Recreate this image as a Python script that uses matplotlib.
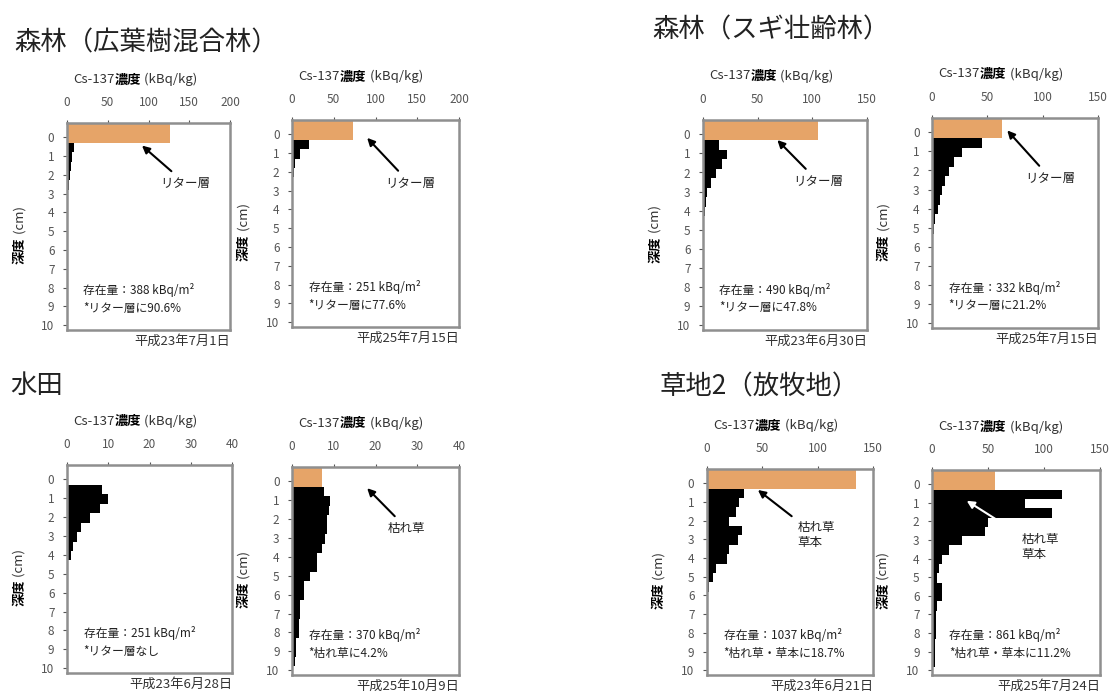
import matplotlib
matplotlib.use('Agg')
import matplotlib.pyplot as plt

plt.rcParams['font.family'] = ['Noto Sans CJK JP', 'DejaVu Sans']

# soil layers: top of each 0.5 cm layer (cm)
depth_top = [0.3, 0.8, 1.3, 1.8, 2.3, 2.8, 3.3, 3.8, 4.3, 4.8,
             5.3, 5.8, 6.3, 6.8, 7.3, 7.8, 8.3, 8.8, 9.3, 9.8]
litter_top = -0.75
litter_thick = 1.05

# Cs-137 concentration per layer (kBq/kg)
forest_broad_h23 = [8, 6, 5, 4, 3, 1.5, 0.5, 0, 0, 0, 0, 0, 0, 0, 0, 0, 0, 0, 0, 0]
forest_broad_h25 = [20, 10, 4, 2, 1, 0.5, 0, 0, 0, 0, 0, 0, 0, 0, 0, 0, 0, 0, 0, 0]
forest_cedar_h23 = [15, 22, 17, 12, 7, 4, 2.5, 1.5, 1, 0.5, 0, 0, 0, 0, 0, 0, 0, 0, 0, 0]
forest_cedar_h25 = [45, 27, 20, 15, 12, 9, 7, 5, 3, 2, 0, 0, 0, 0, 0, 0, 0, 0, 0, 0]
paddy_h23 = [8.5, 10, 8, 5.5, 3.5, 2.5, 1.5, 1, 0, 0, 0, 0, 0, 0, 0, 0, 0, 0, 0, 0]
paddy_h25 = [7.6, 9.2, 8.8, 8.4, 8.4, 8, 7.2, 6, 6, 4.4, 2.8, 2.8, 2, 2, 1.6, 1.6, 1, 1, 0.7, 0]
grass_h23 = [33, 29, 26, 20, 32, 28, 20, 18, 8, 5, 2, 1, 0, 0, 0, 0, 0, 0, 0, 0]
grass_h25 = [116, 83, 107, 50, 47, 27, 15, 9, 6, 4.5, 9, 9, 4.5, 4, 3.5, 3.5, 3, 3, 2.5, 0]

# litter / dead grass layer (kBq/kg), None = no litter layer
litter = [126, 73, 105, 63, None, 7.2, 135, 56]

soil = [forest_broad_h23, forest_broad_h25, forest_cedar_h23, forest_cedar_h25,
        paddy_h23, paddy_h25, grass_h23, grass_h25]
xmax = [200, 200, 150, 150, 40, 40, 150, 150]
xstep = [50, 50, 50, 50, 10, 10, 50, 50]
inventory = [388, 251, 490, 332, 251, 370, 1037, 861]
litter_share = ['*リター層に90.6%', '*リター層に77.6%', '*リター層に47.8%', '*リター層に21.2%',
                '*リター層なし', '*枯れ草に4.2%', '*枯れ草・草本に18.7%', '*枯れ草・草本に11.2%']
dates = ['平成23年7月1日', '平成25年7月15日', '平成23年6月30日', '平成25年7月15日',
         '平成23年6月28日', '平成25年10月9日', '平成23年6月21日', '平成25年7月24日']
arrow_labels = ['リター層', 'リター層', 'リター層', 'リター層', None, '枯れ草',
                '枯れ草\n草本', '枯れ草\n草本']
# arrow head / label position in data units (value, depth)
arrow_head = [(92, 0.45), (90, 0.2), (68, 0.3), (68, -0.1), None, (18, 0.37), (46, 0.37), (31, 0.9)]
arrow_text = [(145, 2.45), (141, 2.6), (105, 2.45), (107, 2.4), None, (27.5, 2.5), (82, 2.8), (80, 3.4)]
arrow_color = ['k', 'k', 'k', 'k', None, 'k', 'k', 'white']

titles = [('森林（広葉樹混合林）', 14, 43), ('森林（スギ壮齢林）', 652, 30),
          ('水田', 10, 385), ('草地2（放牧地）', 660, 387)]

# axes boxes in pixels: left, top, right, bottom
boxes = [(67, 123, 230, 330), (292, 120, 459, 327), (703, 120, 867, 330), (932, 118, 1098, 328),
         (67, 465, 232, 673), (292, 467, 459, 675), (707, 469, 873, 675), (932, 470, 1100, 675)]

W, H = 1110, 698
fig = plt.figure(figsize=(W / 100, H / 100), dpi=100)

for t, x, y in titles:
    fig.text(x / W, 1 - y / H, t, fontsize=19, va='center', ha='left', color='#222222')

for i in range(8):
    l, t, r, b = boxes[i]
    ax = fig.add_axes([l / W, 1 - b / H, (r - l) / W, (b - t) / H])

    ax.barh(depth_top, soil[i], height=0.5, align='edge', color='black', zorder=2)
    if litter[i] is not None:
        ax.barh([litter_top], [litter[i]], height=litter_thick, align='edge',
                color='#E6A468', zorder=2)

    ax.set_xlim(0, xmax[i])
    ax.set_ylim(10.25, -0.75)
    ax.set_xticks(range(0, xmax[i] + 1, xstep[i]))
    ax.set_yticks(range(0, 11))
    ax.xaxis.tick_top()
    ax.tick_params(axis='x', length=2, pad=8, labelsize=8.5, colors='#555555')
    ax.tick_params(axis='y', length=3, pad=6, labelsize=8.5, colors='#555555')
    for sp in ax.spines.values():
        sp.set_color('#8f8f8f')
        sp.set_linewidth(1.8)

    # x label: Cs-137 + bold 濃度 + (kBq/kg)
    t1 = ax.text(0.04, 1.21, 'Cs-137', transform=ax.transAxes, fontsize=9.5,
                 va='center', ha='left', color='#333333')
    t2 = ax.annotate('濃度', xy=(1, 0.5), xycoords=t1, fontsize=9.5, weight='bold',
                     va='center', ha='left', color='black')
    ax.annotate(' (kBq/kg)', xy=(1, 0.5), xycoords=t2, fontsize=9.5,
                va='center', ha='left', color='#333333')

    # y label: bold 深度 + (cm)
    y1 = ax.text(-0.29, 0.32, '深度', transform=ax.transAxes, fontsize=9.5,
                 weight='bold', rotation=90, va='bottom', ha='center')
    ax.annotate(' (cm)', xy=(0.5, 1), xycoords=y1, fontsize=9.5, rotation=90,
                va='bottom', ha='center', color='#333333')

    ax.text(0.1, 0.15, f'存在量：{inventory[i]} kBq/m²\n{litter_share[i]}',
            transform=ax.transAxes, fontsize=8.5, va='center', ha='left',
            linespacing=1.45, color='#222222')
    ax.text(1.0, -0.025, dates[i], transform=ax.transAxes, fontsize=9.5,
            va='top', ha='right', color='#333333')

    if arrow_labels[i] is not None:
        ha = 'left' if '\n' in arrow_labels[i] else 'center'
        ax.annotate(arrow_labels[i], xy=arrow_head[i], xytext=arrow_text[i],
                    fontsize=9, ha=ha, va='center', color='#222222',
                    arrowprops=dict(arrowstyle='-|>', color=arrow_color[i], lw=1.5,
                                    mutation_scale=11, shrinkA=3, shrinkB=0),
                    zorder=3)

fig.savefig('out.png', dpi=100)
